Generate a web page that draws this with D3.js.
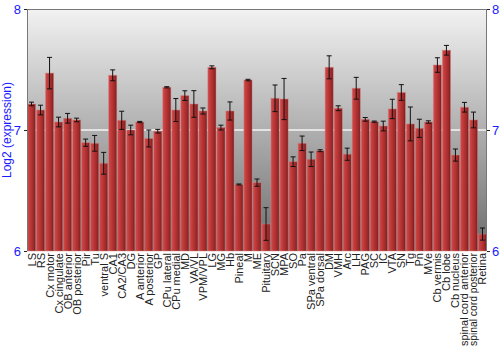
<!DOCTYPE html>
<html>
<head>
<meta charset="utf-8">
<script src="https://cdn.jsdelivr.net/npm/d3@7"></script>
<style>
  body { margin: 0; background: #fff; }
  text { font-family: "Liberation Sans", Arial, sans-serif; }
</style>
</head>
<body>
<script>
// regions along the x axis
const regions = ["LS", "RS", "Cx motor", "Cx cingulate", "OB anterior", "OB posterior", "Pir", "Tu",
   "ventral S", "CA1", "CA2/CA3", "DG", "A anterior", "A posterior", "GP", "CPu lateral", "CPu medial",
   "MD", "VA/VL", "VPM/VPL", "LG", "MG", "Hb", "Pineal", "M", "ME", "Pituitary", "SCN", "MPA", "SO",
   "Pa", "SPa ventral", "SPa dorsal", "DM", "VMH", "Arc", "LH", "PAG", "SC", "IC", "VTA", "SN", "Tg",
   "Pn", "MVe", "Cb vermis", "Cb lobe", "Cb nucleus", "spinal cord anterior", "spinal cord posterior", "Retina"];

// log2 expression (bar height)
const expression = [7.215, 7.165, 7.47, 7.066, 7.097, 7.083, 6.895, 6.89, 6.725, 7.452,
   7.08, 7.0, 7.066, 6.93, 6.99, 7.353, 7.165, 7.284, 7.215, 7.157,
   7.518, 7.02, 7.157, 6.55, 7.413, 6.565, 6.223, 7.262, 7.256, 6.738,
   6.89, 6.758, 6.829, 7.518, 7.18, 6.80, 7.345, 7.088, 7.069, 7.033,
   7.174, 7.31, 7.05, 7.014, 7.066, 7.537, 7.659, 6.793, 7.188, 7.083, 6.14];

// half length of the error bar
const errors = [0.015, 0.04, 0.13, 0.04, 0.04, 0.015, 0.03, 0.065, 0.09, 0.045,
   0.075, 0.04, 0.005, 0.07, 0.015, 0.005, 0.095, 0.04, 0.11, 0.025,
   0.012, 0.02, 0.075, 0.004, 0.006, 0.03, 0.135, 0.11, 0.17, 0.04,
   0.06, 0.06, 0.008, 0.095, 0.02, 0.05, 0.09, 0.015, 0.005, 0.04,
   0.08, 0.065, 0.14, 0.075, 0.01, 0.06, 0.04, 0.05, 0.04, 0.065, 0.05];

const yTicks = [6, 7, 8];

const width = 500, height = 350;
const margin = {top: 9, right: 13, bottom: 99, left: 27};

const svg = d3.select("body").append("svg")
   .attr("width", width)
   .attr("height", height);

const defs = svg.append("defs");

// background gradient, light at top, dark at bottom
const bg = defs.append("linearGradient")
   .attr("id", "bg")
   .attr("x1", 0).attr("y1", 0).attr("x2", 0).attr("y2", 1);
bg.append("stop").attr("offset", "0%").attr("stop-color", "#f2f2f2");
bg.append("stop").attr("offset", "100%").attr("stop-color", "#6c6c6c");

// bar gradient, lighter on the left side
const barGrad = defs.append("linearGradient")
   .attr("id", "barGrad")
   .attr("x1", 0).attr("y1", 0).attr("x2", 1).attr("y2", 0);
barGrad.append("stop").attr("offset", "0%").attr("stop-color", "#d04a4a");
barGrad.append("stop").attr("offset", "45%").attr("stop-color", "#b83434");
barGrad.append("stop").attr("offset", "80%").attr("stop-color", "#9a2828");
barGrad.append("stop").attr("offset", "100%").attr("stop-color", "#6e1a1a");

const x = d3.scaleBand()
   .domain(regions)
   .range([margin.left, width - margin.right])
   .paddingInner(0.1)
   .paddingOuter(0.05);

const y = d3.scaleLinear()
   .domain([6, 8])
   .range([height - margin.bottom, margin.top]);

const plotW = width - margin.right - margin.left;
const plotH = height - margin.bottom - margin.top;

svg.append("rect")
   .attr("x", margin.left)
   .attr("y", margin.top)
   .attr("width", plotW)
   .attr("height", plotH)
   .attr("fill", "url(#bg)");

// gridline at 7
svg.append("line")
   .attr("x1", margin.left).attr("x2", width - margin.right)
   .attr("y1", y(7)).attr("y2", y(7))
   .attr("stroke", "#f4f4f4")
   .attr("stroke-width", 1.5);

const data = regions.map((r, i) => ({region: r, value: expression[i], err: errors[i]}));

// bars
svg.selectAll(".bar")
   .data(data)
   .enter().append("rect")
   .attr("class", "bar")
   .attr("x", d => x(d.region))
   .attr("y", d => y(d.value))
   .attr("width", x.bandwidth())
   .attr("height", d => y(6) - y(d.value))
   .attr("fill", "url(#barGrad)")
   .attr("stroke", "#d88080")
   .attr("stroke-opacity", 0.6)
   .attr("stroke-width", 0.8);

// error bars
const err = svg.selectAll(".err")
   .data(data)
   .enter().append("g")
   .attr("class", "err")
   .attr("stroke", "#111")
   .attr("stroke-width", 1);

err.append("line")
   .attr("x1", d => x(d.region) + x.bandwidth() / 2)
   .attr("x2", d => x(d.region) + x.bandwidth() / 2)
   .attr("y1", d => y(d.value + d.err))
   .attr("y2", d => y(d.value - d.err));
err.append("line")
   .attr("x1", d => x(d.region) + x.bandwidth() / 2 - 2.5)
   .attr("x2", d => x(d.region) + x.bandwidth() / 2 + 2.5)
   .attr("y1", d => y(d.value + d.err))
   .attr("y2", d => y(d.value + d.err));
err.append("line")
   .attr("x1", d => x(d.region) + x.bandwidth() / 2 - 2.5)
   .attr("x2", d => x(d.region) + x.bandwidth() / 2 + 2.5)
   .attr("y1", d => y(d.value - d.err))
   .attr("y2", d => y(d.value - d.err));

// frame lines left, right and top
svg.append("line")
   .attr("x1", margin.left + 0.5).attr("x2", margin.left + 0.5)
   .attr("y1", margin.top).attr("y2", height - margin.bottom)
   .attr("stroke", "#777");
svg.append("line")
   .attr("x1", width - margin.right - 0.5).attr("x2", width - margin.right - 0.5)
   .attr("y1", margin.top).attr("y2", height - margin.bottom)
   .attr("stroke", "#777");
svg.append("line")
   .attr("x1", margin.left).attr("x2", width - margin.right)
   .attr("y1", margin.top + 0.5).attr("y2", margin.top + 0.5)
   .attr("stroke", "#777");

// y axes on both sides
const leftAxis = svg.append("g")
   .attr("transform", `translate(${margin.left},0)`)
   .call(d3.axisLeft(y).tickValues(yTicks).tickFormat(d3.format("d")).tickSize(3).tickPadding(3));
const rightAxis = svg.append("g")
   .attr("transform", `translate(${width - margin.right},0)`)
   .call(d3.axisRight(y).tickValues(yTicks).tickFormat(d3.format("d")).tickSize(3).tickPadding(2));

[leftAxis, rightAxis].forEach(a => {
   a.select(".domain").remove();
   a.selectAll(".tick line").attr("stroke", "#222");
   a.selectAll(".tick text")
      .attr("fill", "#1a1aff")
      .style("font-size", "13px");
});

// category labels, rotated
const labelTop = height - margin.bottom + 2;
const maxLen = height - labelTop - 4;
svg.append("g")
   .selectAll("text")
   .data(regions)
   .enter().append("text")
   .attr("transform", d => `translate(${x(d) + x.bandwidth() / 2 + 4},${labelTop}) rotate(-90)`)
   .attr("text-anchor", "end")
   .attr("fill", "#222")
   .style("font-size", "11px")
   .text(d => d)
   .each(function () {
      // squeeze the long labels so they stay inside the picture
      if (this.getComputedTextLength() > maxLen) {
         d3.select(this)
            .attr("textLength", maxLen)
            .attr("lengthAdjust", "spacingAndGlyphs");
      }
   });

// y title
svg.append("text")
   .attr("transform", `translate(11,${(margin.top + height - margin.bottom) / 2}) rotate(-90)`)
   .attr("text-anchor", "middle")
   .attr("fill", "#1a1aff")
   .style("font-size", "12px")
   .text("Log2 (expression)");
</script>
</body>
</html>
